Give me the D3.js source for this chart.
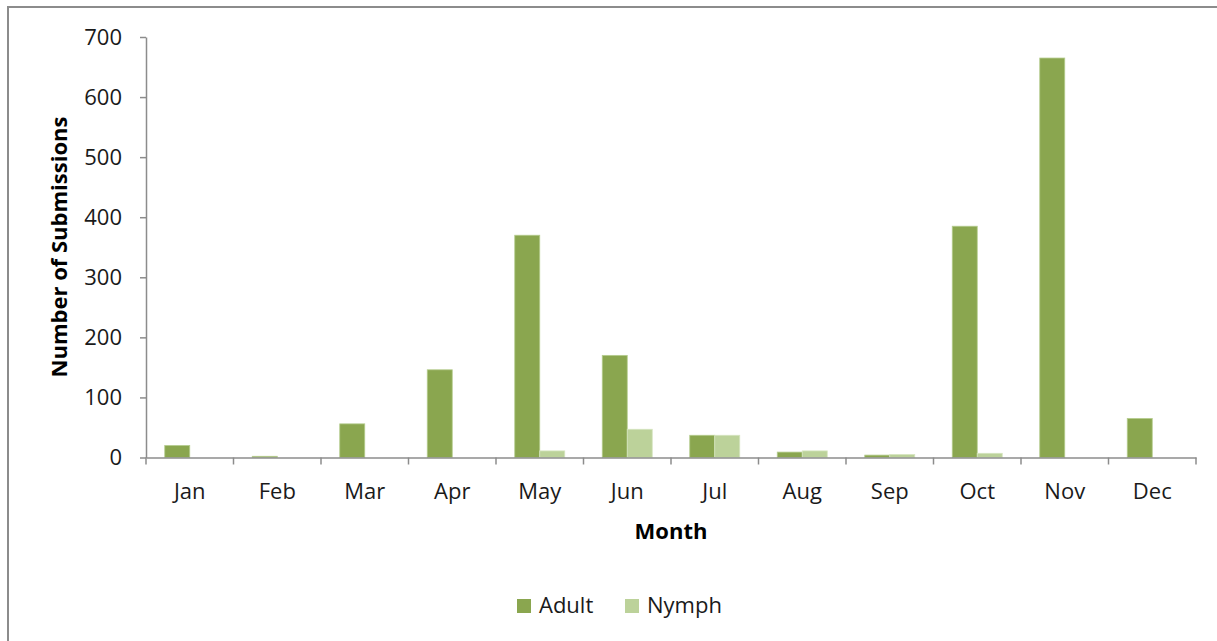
<!DOCTYPE html>
<html><head><meta charset="utf-8">
<script src="https://cdn.jsdelivr.net/npm/d3@7"></script>
<style>
html,body{margin:0;padding:0;background:#fff;}
svg{display:block;font-family:"Open Sans",sans-serif;}
</style></head>
<body><svg id="c" width="1217" height="641"></svg>
<script>
const months = ["Jan","Feb","Mar","Apr","May","Jun","Jul","Aug","Sep","Oct","Nov","Dec"];
const adult = [20,2,56,146,370,170,37,9,4,385,665,65];
const nymph = [0,0,0,0,11,47,37,11,5,7,0,0];
const seriesNames = ["Adult","Nymph"];
const colors = ["#8aa64f","#bcd29a"];
const yTicks = [0,100,200,300,400,500,600,700];

const svg = d3.select("#c");
const mLeft = 146, mRight = 1196, mTop = 37, mBottom = 457.5;

svg.append("rect").attr("x",8).attr("y",7).attr("width",1230).attr("height",660)
  .attr("fill","#fff").attr("stroke","#8c8c8c").attr("stroke-width",2);

const x = d3.scaleBand().domain(months).range([mLeft,mRight]).paddingInner(0).paddingOuter(0);
const y = d3.scaleLinear().domain([0,700]).range([mBottom,mTop]);
const bw = x.bandwidth()/3.5;

const data = months.map((m,i)=>({m, vals:[adult[i], nymph[i]]}));
const g = svg.append("g");
data.forEach(d=>{
  d.vals.forEach((v,j)=>{
    if(v<=0) return;
    g.append("rect")
      .attr("x", x(d.m) + x.bandwidth()/2 - bw + j*bw)
      .attr("y", y(v))
      .attr("width", bw)
      .attr("height", y(0)-y(v))
      .attr("fill", colors[j])
      .attr("stroke", j===0 ? "#b5cc8e" : "#d6e5c0")
      .attr("stroke-width", 0.8);
  });
});

const yAxis = d3.axisLeft(y).tickValues(yTicks).tickSize(6).tickPadding(18).tickSizeOuter(0);
const ya = svg.append("g").attr("transform",`translate(${mLeft},0)`).call(yAxis);
ya.selectAll("path,line").attr("stroke","#8c8c8c").attr("stroke-width",1.5);
ya.selectAll("text").attr("font-size",22).attr("fill","#1a1a1a").attr("font-family","Open Sans");

const xAxis = d3.axisBottom(x).tickSize(0).tickPadding(26).tickSizeOuter(0);
const xa = svg.append("g").attr("transform",`translate(0,${mBottom})`).call(xAxis);
xa.selectAll("path").attr("stroke","#8c8c8c").attr("stroke-width",1.5);
xa.selectAll("text").attr("font-size",22).attr("fill","#1a1a1a").attr("font-family","Open Sans");
const bounds = months.map(m=>x(m)).concat([mRight]);
xa.selectAll(".bt").data(bounds).enter().append("line")
  .attr("x1",d=>d).attr("x2",d=>d).attr("y1",0).attr("y2",7)
  .attr("stroke","#8c8c8c").attr("stroke-width",1.5);

svg.append("text").attr("transform",`translate(67,247) rotate(-90)`)
  .attr("text-anchor","middle").attr("font-size",22).attr("font-weight","bold")
  .attr("fill","#000").text("Number of Submissions");
svg.append("text").attr("x",671).attr("y",539).attr("text-anchor","middle")
  .attr("font-size",22).attr("font-weight","bold").attr("fill","#000").text("Month");

const lg = svg.append("g");
const lx = [517, 625];
seriesNames.forEach((s,i)=>{
  lg.append("rect").attr("x",lx[i]).attr("y",599).attr("width",14).attr("height",14).attr("fill",colors[i]);
  lg.append("text").attr("x",lx[i]+22).attr("y",613).attr("font-size",22).attr("fill","#1a1a1a").text(s);
});
</script></body></html>
